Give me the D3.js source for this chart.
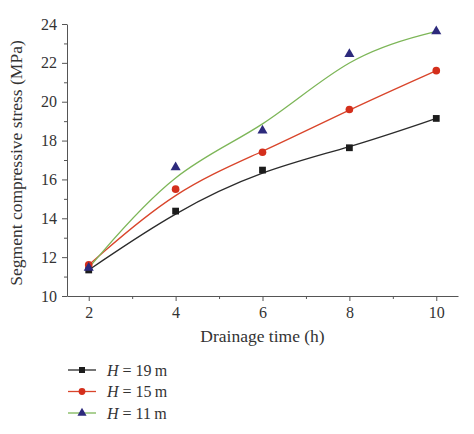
<!DOCTYPE html>
<html>
<head>
<meta charset="utf-8">
<script src="https://cdn.jsdelivr.net/npm/d3@7"></script>
<style>
  body { margin: 0; background: #fff; }
  svg text { font-family: "Liberation Serif", "DejaVu Serif", serif; fill: #333; }
</style>
</head>
<body>
<div class="chart"></div>
<script>
var margin = { top: 24, right: 16, bottom: 138, left: 67 }

var width = 474 - margin.left - margin.right;
var height = 434 - margin.top - margin.bottom;

// data
var times = [2, 4, 6, 8, 10];
var h19 = [11.34, 14.37, 16.48, 17.63, 19.14];
var h15 = [11.6, 15.5, 17.4, 19.6, 21.6];
var h11 = [11.45, 16.62, 18.52, 22.45, 23.62];
var seriesNames = ['19', '15', '11'];
var yTicks = [10, 12, 14, 16, 18, 20, 22, 24];
var xTicks = [2, 4, 6, 8, 10];

var series = [
  { name: seriesNames[0], values: h19, line: '#2b2b2b', fill: '#1c1c1c', shape: d3.symbolSquare },
  { name: seriesNames[1], values: h15, line: '#d9452b', fill: '#d42f1c', shape: d3.symbolCircle },
  { name: seriesNames[2], values: h11, line: '#7db658', fill: '#2d2a7c', shape: d3.symbolTriangle }
];

var svg = d3.select('.chart')
  .append('svg')
    .attr('width', width + margin.left + margin.right)
    .attr('height', height + margin.top + margin.bottom)
  .append('g')
    .attr('transform', `translate(${margin.left}, ${margin.top})`);

var xScale = d3.scaleLinear()
  .domain([1.5, 10.5])
  .range([0, width]);

var yScale = d3.scaleLinear()
  .domain([10, 24])
  .range([height, 0]);

// minor ticks first so the major ones sit on top
svg.append('g')
    .attr('transform', `translate(0, ${height})`)
  .call(d3.axisBottom(xScale).tickValues([3, 5, 7, 9]).tickSize(3).tickFormat(''))
  .call(g => g.select('.domain').remove());

svg.append('g')
  .call(d3.axisLeft(yScale).tickValues([11, 13, 15, 17, 19, 21, 23]).tickSize(3).tickFormat(''))
  .call(g => g.select('.domain').remove());

var xAxis = d3.axisBottom(xScale)
  .tickValues(xTicks)
  .tickSize(5)
  .tickSizeOuter(0)
  .tickPadding(6);

var yAxis = d3.axisLeft(yScale)
  .tickValues(yTicks)
  .tickSize(5)
  .tickSizeOuter(0)
  .tickPadding(5);

svg.append('g')
    .attr('transform', `translate(0, ${height})`)
  .call(xAxis);

svg.append('g')
  .call(yAxis);

svg.selectAll('.tick text')
  .style('font-size', '16px')
  .style('font-family', '"Liberation Serif", serif')
  .attr('fill', '#333');

svg.selectAll('.domain, .tick line')
  .attr('stroke', '#555');

// axis titles
svg.append('text')
  .attr('x', xScale(6))
  .attr('y', height + 46)
  .attr('text-anchor', 'middle')
  .style('font-size', '17.5px')
  .text('Drainage time (h)');

svg.append('text')
  .attr('transform', `translate(${-45}, ${height / 2 + 3}) rotate(-90)`)
  .attr('text-anchor', 'middle')
  .style('font-size', '17.5px')
  .text('Segment compressive stress (MPa)');

// fitted curves
var line = d3.line()
  .x((d, i) => xScale(times[i]))
  .y(d => yScale(d))
  .curve(d3.curveBasis);

svg.selectAll('.fit')
  .data(series)
  .enter()
  .append('path')
  .attr('class', 'fit')
  .attr('d', d => line(d.values))
  .attr('fill', 'none')
  .attr('stroke', d => d.line)
  .attr('stroke-width', 1.3);

// markers
series.forEach(s => {
  svg.selectAll(null)
    .data(s.values)
    .enter()
    .append('path')
    .attr('transform', (d, i) => `translate(${xScale(times[i])}, ${yScale(d)})`)
    .attr('d', d3.symbol().type(s.shape).size(s.shape === d3.symbolTriangle ? 44 : 46))
    .attr('fill', s.fill);
});

// legend
var legend = svg.append('g')
  .attr('transform', `translate(0, ${height + 74})`);

var rows = legend.selectAll('g')
  .data(series)
  .enter()
  .append('g')
  .attr('transform', (d, i) => `translate(0, ${i * 21.5})`);

rows.append('line')
  .attr('x1', 1)
  .attr('x2', 29)
  .attr('stroke', d => d.line)
  .attr('stroke-width', 1.3);

rows.append('path')
  .attr('transform', 'translate(15, 0)')
  .attr('d', d => d3.symbol().type(d.shape).size(36)())
  .attr('fill', d => d.fill);

var label = rows.append('text')
  .attr('x', 40)
  .attr('dy', '0.35em')
  .style('font-size', '16px');

label.append('tspan').style('font-style', 'italic').text('H');
label.append('tspan').text(d => ` = ${d.name}\u2009m`);
</script>
</body>
</html>
